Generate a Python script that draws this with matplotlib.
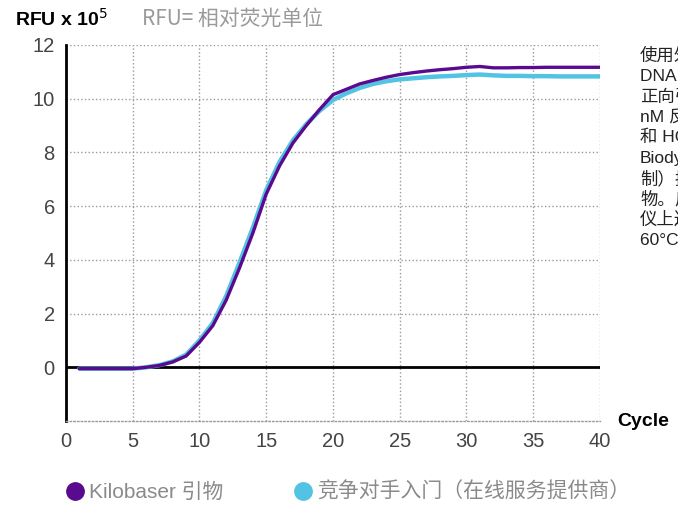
import matplotlib
matplotlib.use("Agg")
import matplotlib.pyplot as plt
from matplotlib.lines import Line2D

plt.rcParams["font.family"] = ["Liberation Sans Narrow", "Liberation Sans", "Noto Sans CJK SC", "DejaVu Sans"]

# qPCR amplification curves (RFU x 10^5 per cycle)
cycles = list(range(1, 41))
kilobaser = [-0.05, -0.05, -0.05, -0.05, -0.05, 0.0, 0.07, 0.2, 0.42, 0.93,
             1.55, 2.5, 3.7, 5.0, 6.45, 7.5, 8.35, 9.0, 9.6, 10.15,
             10.35, 10.55, 10.68, 10.8, 10.9, 10.97, 11.03, 11.08, 11.12, 11.17,
             11.2, 11.15, 11.15, 11.16, 11.16, 11.17, 11.17, 11.17, 11.17, 11.17]
competitor = [-0.05, -0.05, -0.05, -0.05, -0.05, 0.0, 0.08, 0.22, 0.47, 1.0,
              1.65, 2.65, 3.9, 5.2, 6.6, 7.65, 8.45, 9.05, 9.55, 9.95,
              10.2, 10.4, 10.55, 10.65, 10.72, 10.76, 10.8, 10.83, 10.85, 10.88,
              10.9, 10.87, 10.85, 10.85, 10.84, 10.84, 10.83, 10.83, 10.83, 10.83]
series_names = ["Kilobaser 引物", "竞争对手入门（在线服务提供商）"]
x_ticks = list(range(0, 41, 5))
y_ticks = list(range(0, 13, 2))
# paragraph beside the chart, cut off by the right edge in the source
side_lines = ["使用外部", "DNA 模板", "正向引物", "nM 反向", "和 HOT", "Biodyne", "制）扩增",
              "物。反应", "仪上进行", "60°C 退火"]

PURPLE = "#5a0a8e"
BLUE = "#52c3e2"

fig = plt.figure(figsize=(6.78, 5.05), dpi=100)

ax = fig.add_axes([0.0973, 0.1663, 0.7876, 0.7446])

ax.plot(cycles, competitor, color=BLUE, lw=3.2, zorder=3, solid_capstyle="round")
ax.plot(cycles, kilobaser, color=PURPLE, lw=2.4, zorder=4, solid_capstyle="round")
ax.axhline(0, color="black", lw=2, zorder=2)

ax.set_xlim(0, 40)
ax.set_ylim(-2, 12)
ax.set_xticks(x_ticks)
ax.set_yticks(y_ticks)
ax.grid(True, ls=":", color="#9a9a9a", lw=1)
ax.tick_params(length=0, labelsize=14.5, labelcolor="#444444", pad=8)

for s in ["top", "right"]:
    ax.spines[s].set_visible(False)
ax.spines["left"].set_color("black")
ax.spines["left"].set_linewidth(2)
ax.spines["bottom"].set_linestyle(":")
ax.spines["bottom"].set_color("#9a9a9a")
ax.spines["bottom"].set_linewidth(1)

fig.text(0.022, 0.963, "RFU x 10$^5$", fontsize=14, fontweight="bold",
         family=["Liberation Sans", "DejaVu Sans"], va="center")
fig.text(0.21, 0.963, "RFU= 相对荧光单位", fontsize=15, color="#9a9a9a",
         family=["Noto Sans CJK SC", "DejaVu Sans"], va="center")
fig.text(0.91, 0.165, "Cycle", fontsize=14, fontweight="bold",
         family=["Liberation Sans", "DejaVu Sans"], va="center")

for i, line in enumerate(side_lines):
    fig.text(0.944, 0.89 - i * 0.0406, line, fontsize=12.5, color="#222222",
             family=["Liberation Sans", "Noto Sans CJK SC"], va="center")

handles = [Line2D([], [], ls="", marker="o", ms=12.5, color=PURPLE),
           Line2D([], [], ls="", marker="o", ms=12.5, color=BLUE)]
fig.legend(handles, series_names, loc="center left", bbox_to_anchor=(0.067, 0.026), ncol=2,
           frameon=False, labelcolor="#8a8a8a", handlelength=1.0, handletextpad=0.2,
           columnspacing=3.3, borderpad=0.4,
           prop={"family": ["Liberation Sans", "Noto Sans CJK SC"], "size": 15})

fig.savefig("out.png", dpi=100)
